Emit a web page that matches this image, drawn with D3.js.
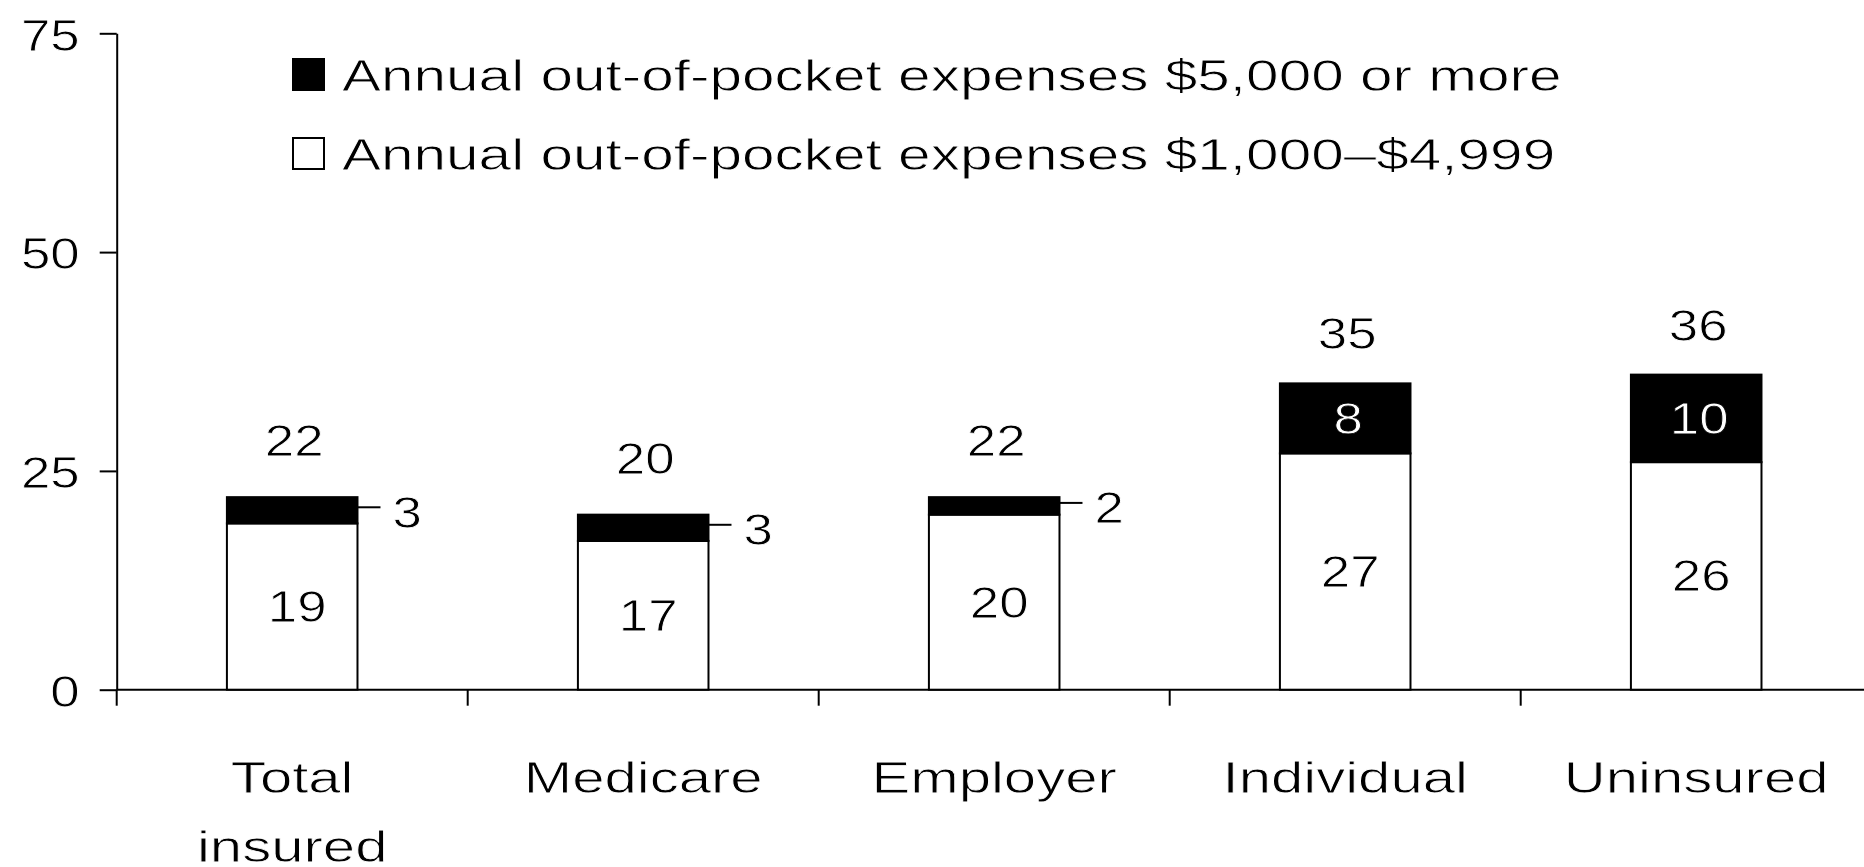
<!DOCTYPE html>
<html>
<head>
<meta charset="utf-8">
<script src="https://cdn.jsdelivr.net/npm/d3@7"></script>
<style>
  body { margin: 0; background: #fff; }
  text { font-family: "Liberation Sans", Arial, sans-serif; fill: #000; stroke: #fff; stroke-width: 0.8px; }
  text.inv { fill: #fff; stroke: #000; }
</style>
</head>
<body>
<svg id="chart"></svg>
<script>
// chart values
var categories = ["Total insured", "Medicare", "Employer", "Individual", "Uninsured"];
var lowExpense = [19, 17, 20, 27, 26];   // $1,000-$4,999
var highExpense = [3, 3, 2, 8, 10];      // $5,000 or more
var totals = [22, 20, 22, 35, 36];
var yTicks = [0, 25, 50, 75];
var legendLabels = [
  "Annual out-of-pocket expenses $5,000 or more",
  "Annual out-of-pocket expenses $1,000\u2013$4,999"
];

var width = 1864, height = 867;
var plotLeft = 116.7, plotTop = 33.3, plotBottom = 689.7;

var svg = d3.select("#chart")
  .attr("width", width)
  .attr("height", height);

var x = d3.scaleBand()
  .domain(categories)
  .range([plotLeft, plotLeft + 351 * categories.length])
  .padding(0);

var y = d3.scaleLinear()
  .domain([0, 75])
  .range([plotBottom, plotTop]);

var barW = x.bandwidth() * 0.372;

// stretch text horizontally, the original font is a wide one
function stretch(sel, f) {
  sel.each(function() {
    var len = this.getComputedTextLength();
    d3.select(this)
      .attr("textLength", len * f)
      .attr("lengthAdjust", "spacingAndGlyphs");
  });
}

// y axis
var yAxis = svg.append("g")
  .attr("transform", "translate(" + plotLeft + ",0)")
  .call(d3.axisLeft(y).tickValues(yTicks).tickSize(17).tickPadding(20).tickSizeOuter(0));
yAxis.select(".domain").attr("stroke", "#000").attr("stroke-width", 2);
yAxis.selectAll(".tick line").attr("stroke", "#000").attr("stroke-width", 2);
yAxis.selectAll(".tick text")
  .attr("font-size", 44)
  .attr("dy", "0.38em")
  .style("font-family", "Liberation Sans, Arial, sans-serif");
stretch(yAxis.selectAll(".tick text"), 1.2);

// x axis line and boundary ticks
svg.append("line")
  .attr("x1", plotLeft).attr("x2", width)
  .attr("y1", y(0)).attr("y2", y(0))
  .attr("stroke", "#000").attr("stroke-width", 2);

svg.selectAll(".xtick")
  .data(categories)
  .enter().append("line")
  .attr("class", "xtick")
  .attr("x1", function(d) { return x(d); })
  .attr("x2", function(d) { return x(d); })
  .attr("y1", y(0))
  .attr("y2", y(0) + 16)
  .attr("stroke", "#000").attr("stroke-width", 2);

// category labels
var catLabels = svg.selectAll(".cat")
  .data(categories)
  .enter().append("g")
  .attr("class", "cat");

catLabels.each(function(d) {
  var g = d3.select(this);
  d.split(" ").forEach(function(line, i) {
    g.append("text")
      .attr("x", x(d) + x.bandwidth() / 2)
      .attr("y", 793 + i * 69)
      .attr("text-anchor", "middle")
      .attr("font-size", 44)
      .text(line);
  });
});
stretch(catLabels.selectAll("text"), 1.32);

// bars
var rows = categories.map(function(c, i) {
  return { cat: c, low: lowExpense[i], high: highExpense[i], total: totals[i] };
});

var bars = svg.selectAll(".bar")
  .data(rows)
  .enter().append("g")
  .attr("class", "bar");

bars.append("rect")
  .attr("x", function(d) { return x(d.cat) + (x.bandwidth() - barW) / 2; })
  .attr("y", function(d) { return y(d.low); })
  .attr("width", barW)
  .attr("height", function(d) { return y(0) - y(d.low); })
  .attr("fill", "#fff")
  .attr("stroke", "#000")
  .attr("stroke-width", 2);

bars.append("rect")
  .attr("x", function(d) { return x(d.cat) + (x.bandwidth() - barW) / 2; })
  .attr("y", function(d) { return y(d.low + d.high); })
  .attr("width", barW)
  .attr("height", function(d) { return y(d.low) - y(d.low + d.high); })
  .attr("fill", "#000")
  .attr("stroke", "#000")
  .attr("stroke-width", 2);

// value labels
var cx = function(d) { return x(d.cat) + x.bandwidth() / 2; };

var lowText = bars.append("text")
  .attr("x", function(d) { return cx(d) + 5; })
  .attr("y", function(d) { return (y(0) + y(d.low)) / 2; })
  .attr("dy", "0.35em")
  .attr("text-anchor", "middle")
  .attr("font-size", 44)
  .text(function(d) { return d.low; });

var totalText = bars.append("text")
  .attr("x", function(d) { return cx(d) + 2; })
  .attr("y", function(d) { return y(d.total) - (d.total > 30 ? 34 : 41); })
  .attr("text-anchor", "middle")
  .attr("font-size", 44)
  .text(function(d) { return d.total; });

// big black segments get the label inside, small ones a leader line
var inside = bars.filter(function(d) { return d.high >= 5; });
var outside = bars.filter(function(d) { return d.high < 5; });

var highIn = inside.append("text")
  .attr("class", "inv")
  .attr("x", function(d) { return cx(d) + 3; })
  .attr("y", function(d) { return (y(d.low) + y(d.low + d.high)) / 2; })
  .attr("dy", "0.35em")
  .attr("text-anchor", "middle")
  .attr("font-size", 44)
  .text(function(d) { return d.high; });

outside.append("line")
  .attr("x1", function(d) { return cx(d) + barW / 2; })
  .attr("x2", function(d) { return cx(d) + barW / 2 + 23; })
  .attr("y1", function(d) { return (y(d.low) + y(d.low + d.high)) / 2 - 3; })
  .attr("y2", function(d) { return (y(d.low) + y(d.low + d.high)) / 2 - 3; })
  .attr("stroke", "#000").attr("stroke-width", 2);

var highOut = outside.append("text")
  .attr("x", function(d) { return cx(d) + barW / 2 + 35; })
  .attr("y", function(d) { return (y(d.low) + y(d.low + d.high)) / 2 + 2; })
  .attr("dy", "0.35em")
  .attr("font-size", 44)
  .text(function(d) { return d.high; });

stretch(lowText, 1.2);
stretch(totalText, 1.2);
stretch(highIn, 1.2);
stretch(highOut, 1.2);

// legend
var legend = svg.selectAll(".legend")
  .data(legendLabels)
  .enter().append("g")
  .attr("class", "legend")
  .attr("transform", function(d, i) { return "translate(292," + (58 + i * 79) + ")"; });

legend.append("rect")
  .attr("x", 1).attr("y", 1)
  .attr("width", 31).attr("height", 31)
  .attr("fill", function(d, i) { return i === 0 ? "#000" : "#fff"; })
  .attr("stroke", "#000")
  .attr("stroke-width", 2);

var legText = legend.append("text")
  .attr("x", 50)
  .attr("y", 33)
  .attr("font-size", 45)
  .text(function(d) { return d; });
stretch(legText, 1.3);
</script>
</body>
</html>
